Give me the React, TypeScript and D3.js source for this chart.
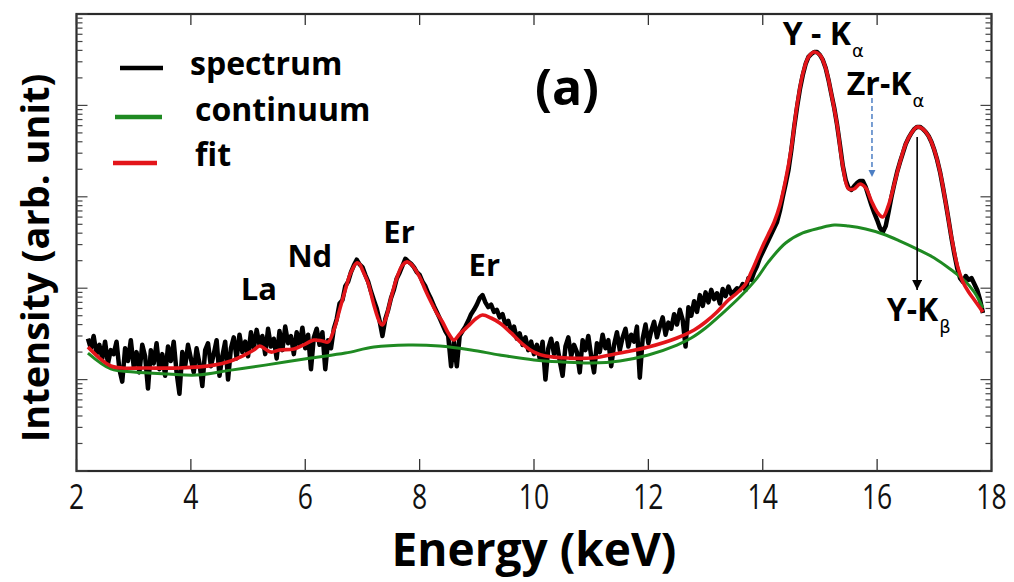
import React from 'react';
import * as d3 from 'd3';

const W = 1014;
const H = 582;

const energyTicks = [2, 4, 6, 8, 10, 12, 14, 16, 18];
const energyDomain = [2, 18];
const intensityDomain = [1, 1e5];

// measured spectrum: channels from 2.2 keV in 0.05 keV steps
const spectrumStartKeV = 2.2;
const spectrumStepKeV = 0.05;
const spectrumCounts = [
  28, 22, 30, 19, 24, 17, 26, 15, 21,
  19, 26, 13, 9.5, 22, 16, 27, 14, 20, 12, 24, 18, 8, 21, 15, 25, 13, 19, 11, 23, 16, 26, 12, 7, 20, 14, 24, 17, 12, 22, 15, 8.5, 21, 25, 14, 19, 27, 11,
  18, 26, 10, 22, 29, 17, 31, 20, 26, 18, 33, 22, 35, 24, 30, 19, 36, 23, 28, 17, 34, 21, 38, 25, 30, 19, 33, 24, 37, 22, 31, 13, 29, 36, 24, 33, 13, 27, 22,
  36, 46, 68, 74, 105, 118, 150, 178, 205, 182, 170, 140, 118, 92, 74, 60, 44, 30, 46, 58, 78, 96, 128, 148, 176, 210, 196, 185, 170, 150, 140, 118, 105, 88, 76, 64, 55, 47, 40, 34, 30, 14, 26, 14, 30, 34, 38, 44, 52, 58, 66, 78, 84, 70, 62, 66, 55, 58, 48, 52, 40, 44, 34, 38, 28, 32, 24, 29, 21, 26, 19,
  24, 17, 26, 10, 22, 28, 19, 25, 16, 11, 23, 29, 18, 24, 20, 12, 27, 21, 30, 18, 12, 25, 20, 31, 22, 27, 14, 24, 33, 21, 29, 36, 23, 31, 26, 38, 10.5, 28, 40, 25, 34, 43, 29, 38, 48, 31, 42, 36, 52, 40, 58, 45, 23, 62, 50, 72, 55, 84, 64, 90, 70, 96, 76, 88, 68, 98, 82, 104, 86, 92, 100, 96,
  111, 95.6, 129, 123, 150, 175, 214, 249, 290, 337, 392, 456, 530, 699, 995, 1380, 1964, 3250, 5810, 9600, 15100, 21500, 28400, 33900, 36500, 38400, 38400, 35600, 31400, 25600, 19000, 13300, 9380, 6110, 3690, 2170, 1530, 1250, 1190, 1310, 1420, 1490, 1490, 1280, 1020, 813, 665, 557, 456, 412, 480, 682, 995, 1380, 1870, 2400, 3010, 3780, 4400, 4990, 5520, 5810, 5810, 5520, 5120, 4620, 3980, 3250, 2530, 1870, 1280, 855, 557, 354, 237, 166, 129, 117, 136, 123, 129, 111, 95.6, 74.3, 53.5,
];

// fit: [energy keV, intensity]
const fitPoints: [number, number][] = [
  [2.2, 22.7], [2.4, 17.2], [2.6, 14.1], [2.8, 13.4], [3.2, 13.4], [3.8, 13.4], [4.4, 14.4], [4.7, 16.0], [4.9, 18.1], [5.1, 21.1],
  [5.2, 23.3], [5.3, 21.6], [5.4, 20.0], [5.55, 21.1], [5.8, 21.6], [6.0, 24.5], [6.15, 27.1], [6.3, 26.4], [6.4, 25.8], [6.5, 34.9],
  [6.6, 57.7], [6.7, 95.6], [6.8, 150], [6.9, 189], [6.95, 184], [7.0, 158], [7.1, 114], [7.2, 65.5], [7.3, 42.7], [7.35, 39.6],
  [7.4, 44.9], [7.5, 78.1], [7.6, 129], [7.7, 179], [7.78, 194], [7.85, 184], [8.0, 133], [8.1, 95.6], [8.2, 70.6], [8.3, 53.5],
  [8.4, 42.7], [8.5, 32.4], [8.6, 27.1], [8.7, 31.5], [8.85, 38.6], [9.0, 47.2], [9.1, 50.9], [9.25, 47.2], [9.4, 41.6], [9.6, 32.4],
  [9.8, 24.5], [10.0, 20.0], [10.2, 18.1], [10.6, 17.2], [11.0, 17.2], [11.5, 19.5], [12.0, 22.7], [12.5, 28.5], [12.8, 34.9], [13.0, 42.7],
  [13.2, 54.9], [13.4, 74.3], [13.55, 88.6], [13.7, 111],
  [13.8, 150], [13.9, 208], [14.0, 290], [14.1, 392], [14.2, 530], [14.3, 813], [14.4, 1530], [14.5, 3420], [14.6, 10100], [14.7, 22100],
  [14.8, 33900], [14.9, 38400], [15.0, 35600], [15.1, 25600], [15.2, 13300], [15.3, 6110], [15.4, 2170], [15.5, 1220], [15.6, 1220], [15.7, 1380],
  [15.8, 1250], [15.9, 900], [16.0, 682], [16.1, 601], [16.2, 813], [16.3, 1380], [16.4, 2400], [16.5, 3780], [16.6, 4990], [16.7, 5810],
  [16.8, 5520], [16.9, 4620], [17.0, 3250], [17.1, 1870], [17.2, 855], [17.3, 363], [17.4, 179], [17.5, 117], [17.6, 90.8], [17.7, 74.3],
  [17.8, 60.7], [17.85, 54.9],
];

// continuum: [energy keV, intensity]
const continuumPoints: [number, number][] = [
  [2.2, 19.5], [2.6, 13.1], [3.0, 12.1], [3.6, 11.5], [4.1, 11.2], [4.7, 12.7], [5.3, 14.4], [6.1, 17.2], [6.7, 19.5], [7.2, 22.7],
  [7.8, 23.9], [8.35, 23.3], [8.9, 21.1], [9.4, 18.6], [10.0, 16.4], [10.5, 15.6], [11.0, 15.2], [11.5, 16.0], [12.0, 18.6], [12.5, 23.9],
  [12.75, 28.5], [13.0, 36.7], [13.3, 53.5], [13.6, 80.1], [13.9, 129], [14.1, 194], [14.4, 312], [14.7, 402], [15.0, 456], [15.25, 491],
  [15.5, 478], [15.8, 444], [16.1, 392], [16.4, 328], [16.7, 268], [17.0, 214], [17.3, 158], [17.5, 126], [17.7, 90.8], [17.85, 60.7],
];

const legendItems = ['spectrum', 'continuum', 'fit'];

const elementLabels = [
  { name: 'La', energy: 5.19, intensity: 74.3 },
  { name: 'Nd', energy: 6.08, intensity: 171 },
  { name: 'Er', energy: 7.64, intensity: 312 },
  { name: 'Er', energy: 9.13, intensity: 136 },
];

const lineLabels = [
  { main: 'Y - K', sub: 'α', energy: 14.35, intensity: 45800 },
  { main: 'Zr-K', sub: 'α', energy: 15.47, intensity: 13000 },
  { main: 'Y-K', sub: 'β', energy: 16.17, intensity: 43.8 },
];

const zrArrow = { energy: 15.91, from: 12050, to: 1648 };
const ykbArrow = { energy: 16.7, from: 4510, to: 95.6 };

export default function App() {
  const x = d3.scaleLinear().domain(energyDomain).range([76.5, 991.5]);
  const y = d3.scaleLog().domain(intensityDomain).range([471, 14]);
  const left = x.range()[0];
  const right = x.range()[1];
  const top = y.range()[1];
  const bottom = y.range()[0];

  const spectrum: [number, number][] = spectrumCounts.map((c, i) => [
    spectrumStartKeV + i * spectrumStepKeV,
    c,
  ]);

  const lineStraight = d3
    .line<[number, number]>()
    .x((d) => x(d[0]))
    .y((d) => y(d[1]));
  const lineSmooth = d3
    .line<[number, number]>()
    .x((d) => x(d[0]))
    .y((d) => y(d[1]))
    .curve(d3.curveCatmullRom.alpha(0.5));

  const logTicks: { v: number; major: boolean }[] = [];
  for (let e = 0; e <= 5; e++) {
    logTicks.push({ v: Math.pow(10, e), major: true });
    if (e < 5) for (let k = 2; k <= 9; k++) logTicks.push({ v: k * Math.pow(10, e), major: false });
  }

  const boldFont = "'Open Sans', 'DejaVu Sans', sans-serif";
  const legendColors = ['#000000', '#1f8a22', '#e3151a'];

  return (
    <svg
      width={W}
      height={H}
      style={{ position: 'absolute', left: 0, top: 0, background: '#fff' }}
      xmlns="http://www.w3.org/2000/svg"
    >
      <defs>
        <clipPath id="plotclip">
          <rect x={left} y={top} width={right - left} height={bottom - top} />
        </clipPath>
        <marker id="blueHead" viewBox="0 0 10 10" refX="10" refY="5" markerWidth="7" markerHeight="8" markerUnits="userSpaceOnUse" orient="auto">
          <path d="M0,0 L10,5 L0,10 z" fill="#4d7fc4" />
        </marker>
        <marker id="blackHead" viewBox="0 0 10 10" refX="10" refY="5" markerWidth="16" markerHeight="10" markerUnits="userSpaceOnUse" orient="auto">
          <path d="M0,0 L10,5 L0,10 z" fill="#000" />
        </marker>
      </defs>
      <rect width={W} height={H} fill="#fff" />

      <g clipPath="url(#plotclip)">
        <path d={lineStraight(spectrum) || ''} fill="none" stroke="#000" strokeWidth={4.5} strokeLinejoin="round" />
        <path d={lineSmooth(continuumPoints) || ''} fill="none" stroke="#1f8a22" strokeWidth={3} />
        <path d={lineSmooth(fitPoints) || ''} fill="none" stroke="#e3151a" strokeWidth={3.6} />
      </g>

      {/* frame */}
      <rect x={left} y={top} width={right - left} height={bottom - top} fill="none" stroke="#2a2a2a" strokeWidth={2.2} />

      {/* x ticks */}
      {energyTicks.map((t) => (
        <g key={'xt' + t}>
          <line x1={x(t)} x2={x(t)} y1={bottom} y2={bottom - 12} stroke="#333" strokeWidth={1.3} />
          <line x1={x(t)} x2={x(t)} y1={top} y2={top + 11} stroke="#333" strokeWidth={1.3} />
          <text
            transform={`translate(${x(t)},${509}) scale(0.78,1)`}
            textAnchor="middle"
            fontFamily="'Open Sans', sans-serif"
            fontSize={34}
            fill="#111"
          >
            {t}
          </text>
        </g>
      ))}

      {/* y log ticks */}
      {logTicks.map((t, i) => (
        <g key={'yt' + i}>
          <line x1={left} x2={left + (t.major ? 11 : 6)} y1={y(t.v)} y2={y(t.v)} stroke="#444" strokeWidth={1.2} />
          <line x1={right} x2={right - (t.major ? 11 : 6)} y1={y(t.v)} y2={y(t.v)} stroke="#444" strokeWidth={1.2} />
        </g>
      ))}

      {/* axis titles */}
      <text x={(left + right) / 2} y={566} textAnchor="middle" fontFamily={boldFont} fontWeight="bold" fontSize={46} fill="#000">
        Energy (keV)
      </text>
      <text
        transform={`translate(49,${258}) rotate(-90)`}
        textAnchor="middle"
        fontFamily={boldFont}
        fontWeight="bold"
        fontSize={38}
        fill="#000"
      >
        Intensity (arb. unit)
      </text>

      {/* legend */}
      {legendItems.map((name, i) => {
        const ly = [68, 117, 163][i];
        const lx = [[120, 163], [115, 162], [113, 157]][i];
        const tx = [190, 195, 195][i];
        const tb = [75, 121, 166][i];
        return (
          <g key={name}>
            <line x1={lx[0]} x2={lx[1]} y1={ly} y2={ly} stroke={legendColors[i]} strokeWidth={4.5} />
            <text x={tx} y={tb} fontFamily={boldFont} fontWeight="bold" fontSize={32} fill="#000">
              {name}
            </text>
          </g>
        );
      })}

      <text x={567} y={105} textAnchor="middle" fontFamily={boldFont} fontWeight="bold" fontSize={50} fill="#000">
        (a)
      </text>

      {/* element labels */}
      {elementLabels.map((l, i) => (
        <text key={'el' + i} x={x(l.energy)} y={y(l.intensity)} textAnchor="middle" fontFamily={boldFont} fontWeight="bold" fontSize={31} fill="#000">
          {l.name}
        </text>
      ))}

      {/* arrows */}
      <line
        x1={x(zrArrow.energy)}
        x2={x(zrArrow.energy)}
        y1={y(zrArrow.from)}
        y2={y(zrArrow.to)}
        stroke="#4d7fc4"
        strokeWidth={1.5}
        strokeDasharray="5,3"
        markerEnd="url(#blueHead)"
      />
      <line
        x1={x(ykbArrow.energy)}
        x2={x(ykbArrow.energy)}
        y1={y(ykbArrow.from)}
        y2={y(ykbArrow.to)}
        stroke="#000"
        strokeWidth={1.6}
        markerEnd="url(#blackHead)"
      />

      {/* X-ray line labels */}
      {lineLabels.map((l, i) => (
        <text key={'ll' + i} x={x(l.energy)} y={y(l.intensity)} fontFamily={boldFont} fontWeight="bold" fontSize={32} fill="#000">
          {l.main}
          <tspan dx={1} dy={12} fontWeight="normal" fontSize={18} fontFamily="'DejaVu Sans', sans-serif">
            {l.sub}
          </tspan>
        </text>
      ))}
    </svg>
  );
}
